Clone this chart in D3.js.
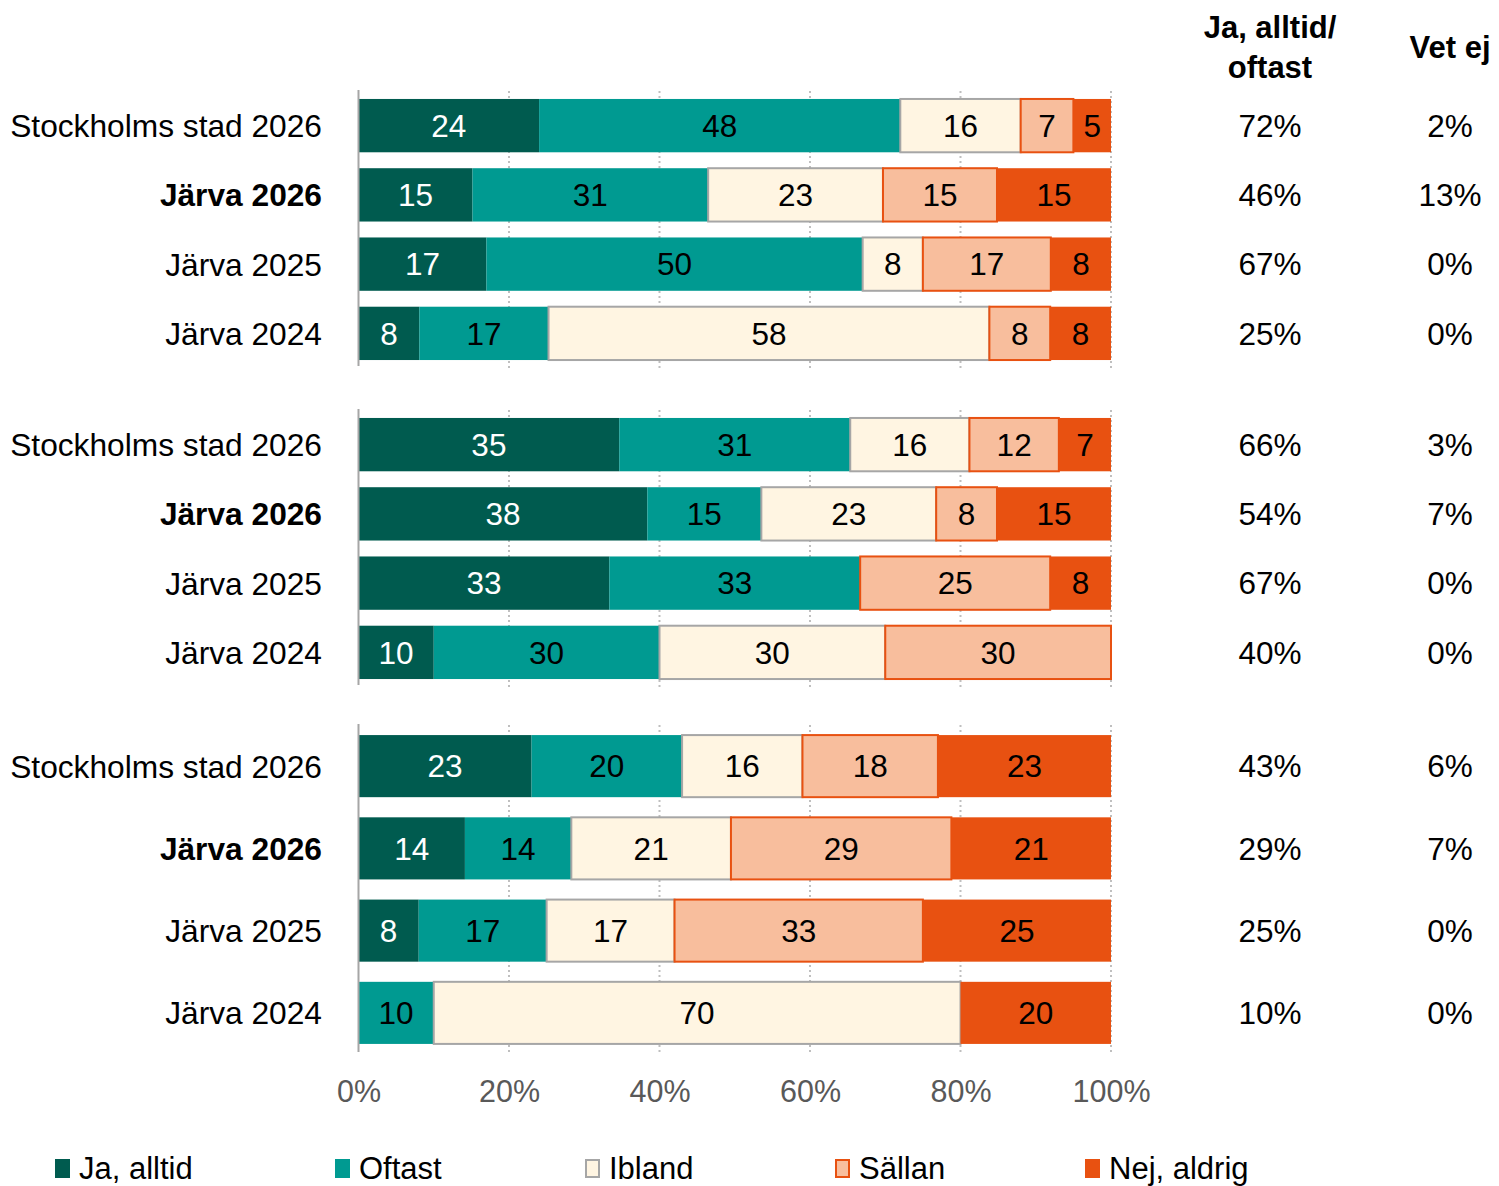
<!DOCTYPE html>
<html>
<head>
<meta charset="utf-8">
<script src="https://cdn.jsdelivr.net/npm/d3@7"></script>
<style>
  body { margin: 0; background: #fff; }
  svg text { font-family: "Liberation Sans", Arial, sans-serif; }
</style>
</head>
<body>
<div class="chart"></div>
<script>
var svgWidth = 1499;
var svgHeight = 1186;

// answer categories (stack order, left to right)
var categories = ["Ja, alltid", "Oftast", "Ibland", "Sällan", "Nej, aldrig"];
var colors = ["#005B4F", "#009A91", "#FFF5E2", "#F8BE9D", "#E85111"];
var strokes = ["none", "none", "#A6A6A6", "#E85111", "none"];

var rowLabels = ["Stockholms stad 2026", "Järva 2026", "Järva 2025", "Järva 2024"];
var boldRow = "Järva 2026";

// values per row, in category order
var group1Values = [[24, 48, 16, 7, 5], [15, 31, 23, 15, 15], [17, 50, 8, 17, 8], [8, 17, 58, 8, 8]];
var group2Values = [[35, 31, 16, 12, 7], [38, 15, 23, 8, 15], [33, 33, 0, 25, 8], [10, 30, 30, 30, 0]];
var group3Values = [[23, 20, 16, 18, 23], [14, 14, 21, 29, 21], [8, 17, 17, 33, 25], [0, 10, 70, 0, 20]];

// side columns
var group1JaOftast = [72, 46, 67, 25];
var group2JaOftast = [66, 54, 67, 40];
var group3JaOftast = [43, 29, 25, 10];
var group1VetEj = [2, 13, 0, 0];
var group2VetEj = [3, 7, 0, 0];
var group3VetEj = [6, 7, 0, 0];

var xTicks = [0, 0.2, 0.4, 0.6, 0.8, 1];

// layout of the three panels
var groups = [
  { values: group1Values, ja: group1JaOftast, vet: group1VetEj, range: [91, 368], pad: 0.23 },
  { values: group2Values, ja: group2JaOftast, vet: group2VetEj, range: [410, 687], pad: 0.23 },
  { values: group3Values, ja: group3JaOftast, vet: group3VetEj, range: [725, 1054], pad: 0.245 }
];

var svg = d3.select(".chart")
  .append("svg")
  .attr("width", svgWidth)
  .attr("height", svgHeight);

var xScale = d3.scaleLinear()
  .domain([0, 1])
  .range([358.5, 1111]);

var stack = d3.stack()
  .keys(d3.range(categories.length))
  .value((d, k) => d[k])
  .offset(d3.stackOffsetExpand);

var colJa = 1270;
var colVet = 1450;

groups.forEach(function(g) {
  var yScale = d3.scaleBand()
    .domain(rowLabels)
    .range(g.range)
    .paddingInner(g.pad)
    .paddingOuter(g.pad / 2);

  var panel = svg.append("g");

  // dotted gridlines
  panel.selectAll(".grid")
    .data(xTicks.slice(1))
    .enter()
    .append("line")
    .attr("x1", d => xScale(d))
    .attr("x2", d => xScale(d))
    .attr("y1", g.range[0])
    .attr("y2", g.range[1])
    .attr("stroke", "#BFBFBF")
    .attr("stroke-width", 2)
    .attr("stroke-dasharray", "2,3");

  var series = stack(g.values);

  series.forEach(function(s, k) {
    var layer = panel.append("g");
    layer.selectAll("rect")
      .data(s.map((d, i) => ({ d: d, row: rowLabels[i], v: g.values[i][k] })))
      .enter()
      .filter(d => d.v > 0)
      .append("rect")
      .attr("x", d => xScale(d.d[0]))
      .attr("y", d => yScale(d.row))
      .attr("width", d => xScale(d.d[1]) - xScale(d.d[0]))
      .attr("height", yScale.bandwidth())
      .attr("fill", colors[k])
      .attr("stroke", strokes[k])
      .attr("stroke-width", strokes[k] === "none" ? 0 : 2);
  });

  series.forEach(function(s, k) {
    panel.append("g").selectAll("text")
      .data(s.map((d, i) => ({ d: d, row: rowLabels[i], v: g.values[i][k] })))
      .enter()
      .filter(d => d.v > 0)
      .append("text")
      .attr("x", d => xScale((d.d[0] + d.d[1]) / 2))
      .attr("y", d => yScale(d.row) + yScale.bandwidth() / 2)
      .attr("dy", "0.36em")
      .attr("text-anchor", "middle")
      .attr("font-size", 31.5)
      .attr("fill", k === 0 ? "#fff" : "#000")
      .text(d => d.v);
  });

  // axis line at 0%
  panel.append("line")
    .attr("x1", xScale(0))
    .attr("x2", xScale(0))
    .attr("y1", g.range[0] - 1)
    .attr("y2", g.range[1] - 2)
    .attr("stroke", "#A6A6A6")
    .attr("stroke-width", 2);

  // row labels
  panel.selectAll(".rowlabel")
    .data(rowLabels)
    .enter()
    .append("text")
    .attr("x", 322)
    .attr("y", d => yScale(d) + yScale.bandwidth() / 2)
    .attr("dy", "0.36em")
    .attr("text-anchor", "end")
    .attr("font-size", 31.7)
    .attr("font-weight", d => d === boldRow ? "bold" : "normal")
    .text(d => d);

  // side columns
  panel.selectAll(".ja")
    .data(g.ja)
    .enter()
    .append("text")
    .attr("x", colJa)
    .attr("y", (d, i) => yScale(rowLabels[i]) + yScale.bandwidth() / 2)
    .attr("dy", "0.36em")
    .attr("text-anchor", "middle")
    .attr("font-size", 31.5)
    .text(d => d + "%");

  panel.selectAll(".vet")
    .data(g.vet)
    .enter()
    .append("text")
    .attr("x", colVet)
    .attr("y", (d, i) => yScale(rowLabels[i]) + yScale.bandwidth() / 2)
    .attr("dy", "0.36em")
    .attr("text-anchor", "middle")
    .attr("font-size", 31.5)
    .text(d => d + "%");
});

// bottom axis
var bottomAxis = d3.axisBottom(xScale)
  .tickValues(xTicks)
  .tickFormat(d3.format(".0%"))
  .tickSize(0)
  .tickPadding(0);

var xAxis = svg.append("g")
  .attr("transform", "translate(0, 1080)")
  .call(bottomAxis);
xAxis.select(".domain").remove();
xAxis.selectAll("text")
  .attr("font-size", 30.5)
  .attr("font-family", "Liberation Sans, Arial, sans-serif")
  .attr("fill", "#595959");

// column headers
svg.append("text")
  .attr("x", colJa)
  .attr("y", 38)
  .attr("text-anchor", "middle")
  .attr("font-size", 31)
  .attr("font-weight", "bold")
  .text("Ja, alltid/");
svg.append("text")
  .attr("x", colJa)
  .attr("y", 78)
  .attr("text-anchor", "middle")
  .attr("font-size", 31)
  .attr("font-weight", "bold")
  .text("oftast");
svg.append("text")
  .attr("x", colVet)
  .attr("y", 58)
  .attr("text-anchor", "middle")
  .attr("font-size", 31)
  .attr("font-weight", "bold")
  .text("Vet ej");

// legend: first entry sits at the left, the rest on a 250px step
var legendX = d3.scaleOrdinal()
  .domain(categories)
  .range([55, 335, 585, 835, 1085]);

var legend = svg.append("g").selectAll("g")
  .data(categories)
  .enter()
  .append("g")
  .attr("transform", d => `translate(${legendX(d)}, 1160)`);

legend.append("rect")
  .attr("x", 1)
  .attr("y", 0)
  .attr("width", 13)
  .attr("height", 17)
  .attr("fill", (d, i) => colors[i])
  .attr("stroke", (d, i) => strokes[i] === "none" ? colors[i] : strokes[i])
  .attr("stroke-width", 2);

legend.append("text")
  .attr("x", 24)
  .attr("y", 19)
  .attr("font-size", 31)
  .text(d => d);
</script>
</body>
</html>
